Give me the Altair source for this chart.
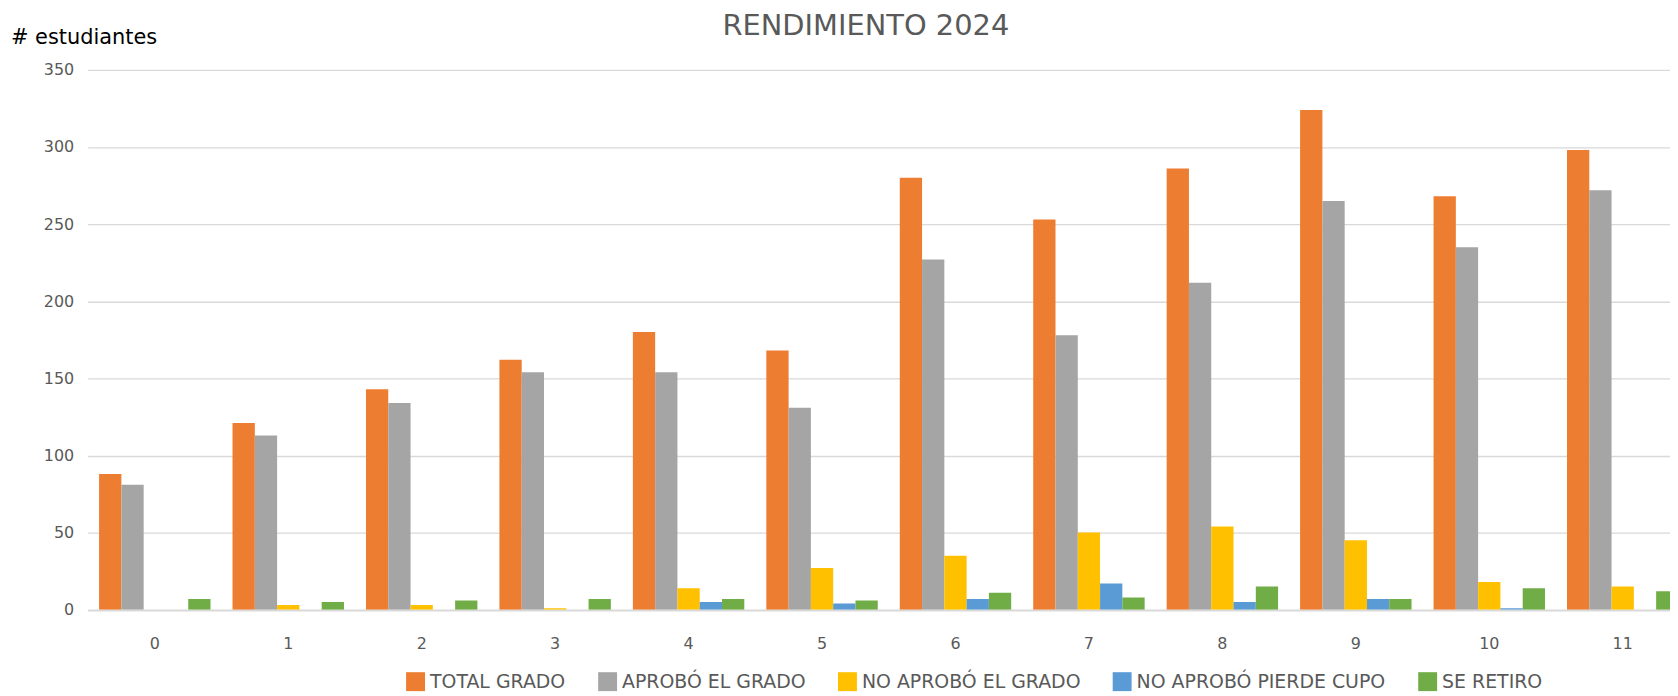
import altair as alt
import pandas as pd

grados = ["0", "1", "2", "3", "4", "5", "6", "7", "8", "9", "10", "11"]
series = ["TOTAL GRADO", "APROBÓ EL GRADO", "NO APROBÓ EL GRADO", "NO APROBÓ PIERDE CUPO", "SE RETIRO"]
total_grado = [88, 121, 143, 162, 180, 168, 280, 253, 286, 324, 268, 298]
aprobo = [81, 113, 134, 154, 154, 131, 227, 178, 212, 265, 235, 272]
no_aprobo = [0, 3, 3, 1, 14, 27, 35, 50, 54, 45, 18, 15]
pierde_cupo = [0, 0, 0, 0, 5, 4, 7, 17, 5, 7, 1, 0]
se_retiro = [7, 5, 6, 7, 7, 6, 11, 8, 15, 7, 14, 12]
colores = ["#ED7D31", "#A5A5A5", "#FFC000", "#5B9BD5", "#70AD47"]
titulo = ["RENDIMIENTO 2024"]
eje_y = ["# estudiantes"]

valores = [total_grado, aprobo, no_aprobo, pierde_cupo, se_retiro]
rows = []
for s, vals in zip(series, valores):
    for g, v in zip(grados, vals):
        rows.append({"grado": g, "serie": s, "valor": v})
df = pd.DataFrame(rows)

FONT = "DejaVu Sans"
GREY = "#595959"
PLOT_LEFT = 88
PLOT_TOP = 68.5

bars = alt.Chart(df).mark_bar(clip=True).encode(
    x=alt.X("grado:N", sort=grados,
            scale=alt.Scale(domain=grados, range=[0, 1610], paddingInner=0.165, paddingOuter=0.086),
            axis=alt.Axis(title=None, labelAngle=0, ticks=False, domainColor="#d9d9d9", domainWidth=1.3,
                          labelFontSize=16, labelColor=GREY, labelFont=FONT, labelPadding=26)),
    xOffset=alt.XOffset("serie:N", sort=series, scale=alt.Scale(domain=series, paddingInner=0, paddingOuter=0)),
    y=alt.Y("valor:Q", scale=alt.Scale(domain=[0, 350], nice=False),
            axis=alt.Axis(values=[0, 50, 100, 150, 200, 250, 300, 350], title=None,
                          ticks=False, domain=False, gridColor="#d9d9d9", gridWidth=1.3,
                          labelFontSize=16, labelColor=GREY, labelFont=FONT, labelPadding=14)),
    color=alt.Color("serie:N", sort=series,
                    scale=alt.Scale(domain=series, range=colores),
                    legend=alt.Legend(title=None, orient="none", direction="horizontal",
                                      legendX=408 - PLOT_LEFT, legendY=605, symbolType="square",
                                      symbolSize=361, symbolStrokeWidth=0, labelFontSize=19,
                                      labelFont=FONT, labelColor=GREY, columnPadding=32,
                                      labelOffset=5, labelLimit=0)),
)

title_text = alt.Chart(pd.DataFrame({"t": titulo})).mark_text(
    font=FONT, fontSize=29, color=GREY, align="center", baseline="middle"
).encode(text="t:N", x=alt.value(870 - PLOT_LEFT), y=alt.value(24 - PLOT_TOP))

ytitle_text = alt.Chart(pd.DataFrame({"t": eje_y})).mark_text(
    font=FONT, fontSize=21, color="#000000", align="left", baseline="middle"
).encode(text="t:N", x=alt.value(11 - PLOT_LEFT), y=alt.value(37 - PLOT_TOP))

chart = alt.layer(bars, title_text, ytitle_text).properties(
    width=1678 - PLOT_LEFT, height=542.5,
    autosize=alt.AutoSizeParams(type="none"),
    padding={"left": PLOT_LEFT - 8, "top": PLOT_TOP - 8, "right": 0, "bottom": 82},
).configure_view(stroke=None)

chart.save("out.html", embed_options={"renderer": "svg", "actions": False})
